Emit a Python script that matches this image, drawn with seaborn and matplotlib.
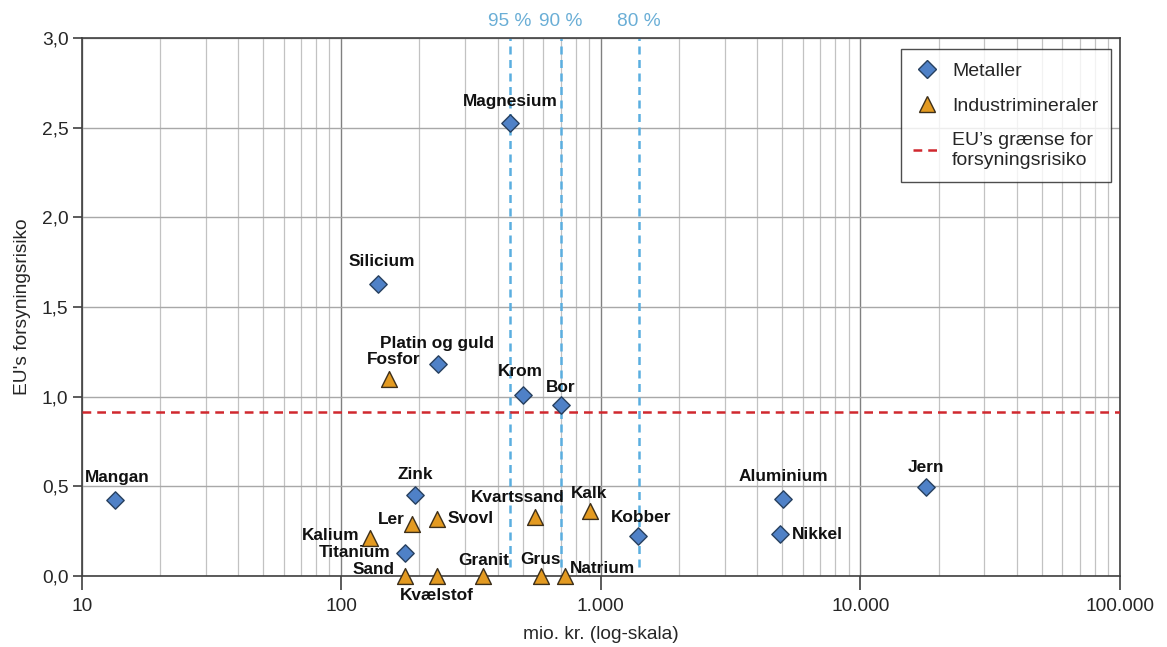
import numpy as np
import pandas as pd
import seaborn as sns
import matplotlib.pyplot as plt
import matplotlib.ticker as mticker
import matplotlib.lines as mlines
import matplotlib.transforms as mtransforms

# Metaller: navn, værdi (mio. kr.), EU's forsyningsrisiko
metal_names = ["Magnesium", "Silicium", "Platin og guld", "Krom", "Bor", "Mangan",
               "Zink", "Titanium", "Kobber", "Aluminium", "Nikkel", "Jern"]
metal_value = [447, 139, 235, 500, 700, 13.4, 192, 176, 1393, 5040, 4900, 17900]
metal_risk = [2.525, 1.628, 1.182, 1.011, 0.952, 0.424, 0.45, 0.13, 0.223, 0.428, 0.234, 0.498]

# Industrimineraler
mineral_names = ["Fosfor", "Ler", "Svovl", "Kalium", "Sand", "Kvælstof", "Granit",
                 "Kvartssand", "Grus", "Natrium", "Kalk"]
mineral_value = [153, 187, 233, 129, 176, 233, 352, 557, 586, 727, 908]
mineral_risk = [1.10, 0.29, 0.32, 0.21, 0.0, 0.0, 0.0, 0.327, 0.0, 0.0, 0.364]

eu_limit = 0.915
share_labels = ["95 %", "90 %", "80 %"]
share_values = [447, 702, 1398]

metals = pd.DataFrame({"navn": metal_names, "vaerdi": metal_value, "risiko": metal_risk})
minerals = pd.DataFrame({"navn": mineral_names, "vaerdi": mineral_value, "risiko": mineral_risk})

# label placement: (dx px, dy px (screen down), ha)
label_pos = {
    "Magnesium": (0, -22, "center"), "Silicium": (3, -23, "center"),
    "Platin og guld": (-1, -21, "center"), "Krom": (-2, -23, "center"),
    "Bor": (0, -18, "center"), "Mangan": (3, -22, "center"),
    "Zink": (0, -21, "center"), "Titanium": (-14, 0, "right"),
    "Kobber": (3, -19, "center"), "Aluminium": (0, -23, "center"),
    "Nikkel": (12, 0, "left"), "Jern": (0, -19, "center"),
    "Fosfor": (4, -19, "center"), "Ler": (-7, -5, "right"),
    "Svovl": (11, 0, "left"), "Kalium": (-10, -3, "right"),
    "Sand": (-10, -7, "right"), "Kvælstof": (0, 19, "center"),
    "Granit": (1, -16, "center"), "Kvartssand": (-17, -20, "center"),
    "Grus": (0, -17, "center"), "Natrium": (5, -8, "left"),
    "Kalk": (-1, -17, "center"),
}

sns.set_style("white")
plt.rcParams["font.family"] = ["Liberation Sans", "DejaVu Sans"]

fig = plt.figure(figsize=(11.67, 6.47), dpi=100)
ax = fig.add_axes([0.070, 0.1097, 0.8897, 0.8316])

ax.set_xscale("log")
ax.set_xlim(10, 100000)
ax.set_ylim(0, 3.0)

# grid
ax.xaxis.set_minor_locator(mticker.LogLocator(base=10, subs=np.arange(2, 10)))
ax.grid(which="major", axis="x", color="#808080", lw=1.0)
ax.grid(which="minor", axis="x", color="#c2c2c2", lw=0.9)
ax.grid(which="major", axis="y", color="#a8a8a8", lw=1.0)
ax.set_axisbelow(True)
for sp in ax.spines.values():
    sp.set_color("#404040")
    sp.set_linewidth(1.2)

ax.xaxis.set_major_formatter(mticker.FuncFormatter(lambda v, p: f"{v:,.0f}".replace(",", ".")))
ax.yaxis.set_major_locator(mticker.MultipleLocator(0.5))
ax.yaxis.set_major_formatter(mticker.FuncFormatter(lambda v, p: f"{v:.1f}".replace(".", ",")))
ax.tick_params(axis="x", which="major", length=10, width=1.2, color="#404040", labelsize=13.8, pad=6)
ax.tick_params(axis="x", which="minor", length=0)
ax.tick_params(axis="y", length=6.5, width=1.2, color="#404040", labelsize=13.8, pad=3)
ax.tick_params(left=True, bottom=True)

# threshold lines
ax.vlines(share_values, 0.05, 3.0, colors="#5aaee0", lw=1.8, linestyles=(0, (3.2, 2.2)), zorder=2)
trans = mtransforms.blended_transform_factory(ax.transData, ax.transAxes)
for lab, xv in zip(share_labels, share_values):
    ax.text(xv, 1.031, lab, transform=trans, ha="center", va="center",
            fontsize=13.8, color="#6aaed6")

ax.axhline(eu_limit, color="#d0282e", lw=1.8, ls=(0, (3.5, 2.4)), zorder=3)

sns.scatterplot(data=metals, x="vaerdi", y="risiko", marker="D", s=78, color="#4f81c7",
                edgecolor="#27405f", linewidth=1.0, ax=ax, zorder=5, clip_on=False)
sns.scatterplot(data=minerals, x="vaerdi", y="risiko", marker="^", s=130, color="#e39a21",
                edgecolor="#3d2f1a", linewidth=1.0, ax=ax, zorder=5, clip_on=False)

for df in (metals, minerals):
    for _, r in df.iterrows():
        dx, dy, ha = label_pos[r["navn"]]
        ax.annotate(r["navn"], (r["vaerdi"], r["risiko"]), xytext=(dx, -dy),
                    textcoords="offset pixels", ha=ha, va="center",
                    fontsize=12.4, fontweight="bold", color="#111111",
                    annotation_clip=False, zorder=6)

ax.set_xlabel("mio. kr. (log-skala)", fontsize=13.8, labelpad=8)
ax.set_ylabel("EU's forsyningsrisiko", fontsize=13.8, labelpad=8)

h1 = mlines.Line2D([], [], ls="none", marker="D", ms=9, mfc="#4f81c7", mec="#27405f", mew=1.0)
h2 = mlines.Line2D([], [], ls="none", marker="^", ms=11, mfc="#e39a21", mec="#3d2f1a", mew=1.0)
h3 = mlines.Line2D([], [], color="#d0282e", lw=1.8, ls=(0, (3.5, 2.4)))
leg = ax.legend([h1, h2, h3], ["Metaller", "Industrimineraler", "EU\u2019s grænse for\nforsyningsrisiko"],
                loc="upper right", bbox_to_anchor=(0.9913, 0.979), borderaxespad=0,
                fontsize=14, frameon=True, fancybox=False, edgecolor="#222222",
                handlelength=1.4, handletextpad=0.6, labelspacing=0.9, borderpad=0.65)
leg.get_frame().set_linewidth(1.0)
for t in leg.get_texts():
    t.set_linespacing(1.25)

fig.savefig("out.png", dpi=100)
